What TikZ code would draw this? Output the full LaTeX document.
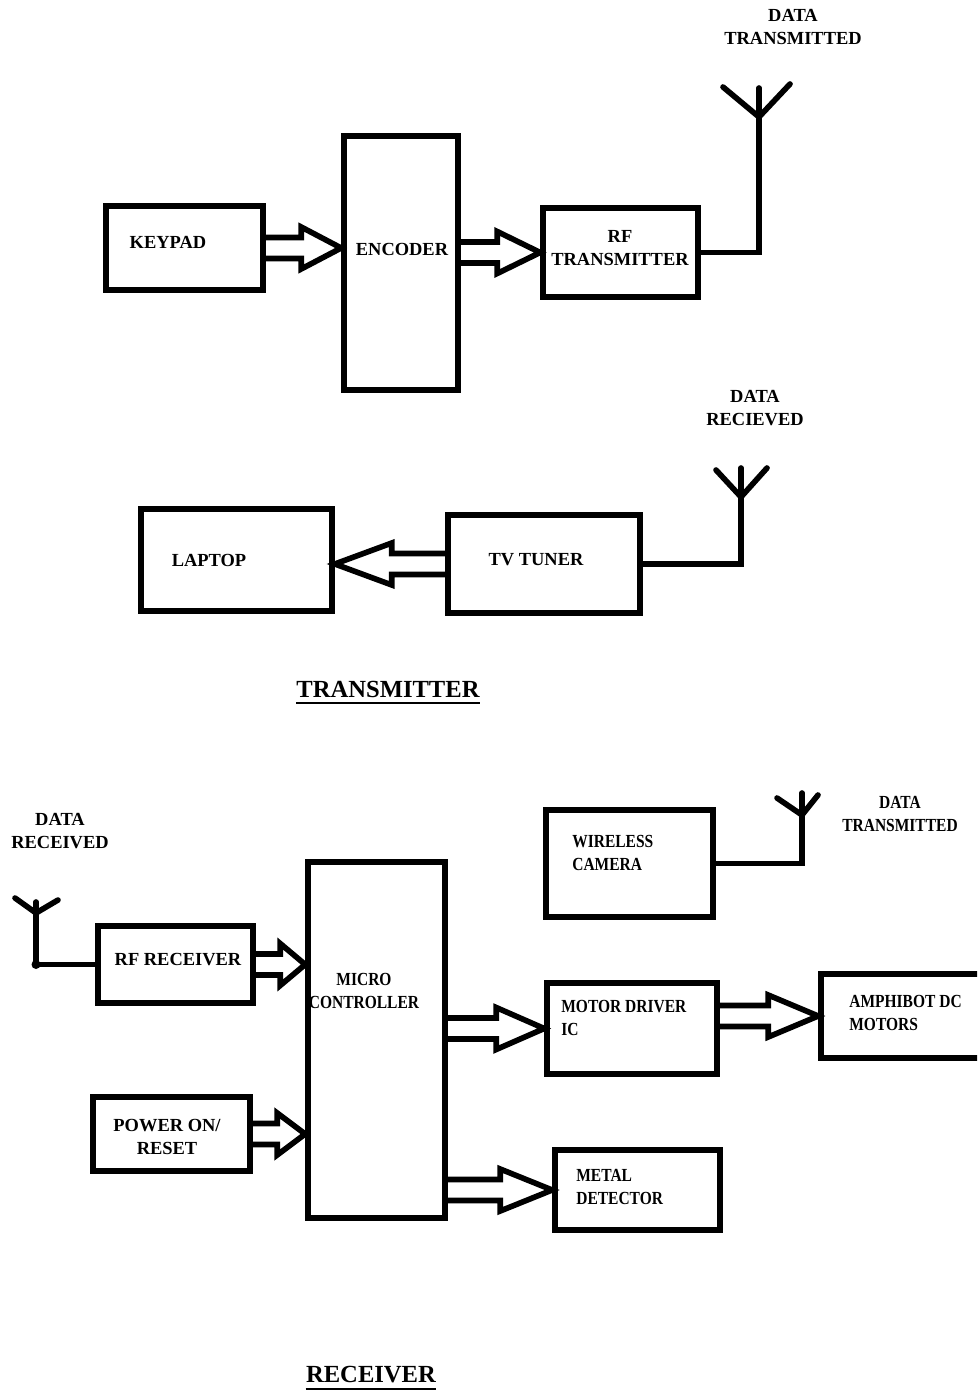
\documentclass[tikz,border=0pt]{standalone}
\usepackage{fontspec}
\setmainfont{Liberation Serif}
\newfontfamily\narrowserif[FakeStretch=0.84]{Liberation Serif}
\usetikzlibrary{fit, calc}

% hollow block arrow: from, tip, head length
\newcommand{\fatarrow}[3]{%
  \draw[fat] let \p1=#1, \p2=#2, \n1={sign(\x2-\x1)} in
    (\x1,{\y2+0.21cm}) -- ({\x2-(\n1)*#3},{\y2+0.21cm}) -- ({\x2-(\n1)*#3},{\y2+0.42cm})
    -- (\x2,\y2) -- ({\x2-(\n1)*#3},{\y2-0.42cm}) -- ({\x2-(\n1)*#3},{\y2-0.21cm})
    -- (\x1,{\y2-0.21cm});}

\begin{document}
\begin{tikzpicture}[x=0.02cm, y=-0.02cm,
  blk/.style={draw, rectangle, line width=3.2pt, inner sep=0pt},
  txt/.style={font=\fontsize{10.5}{13}\selectfont\bfseries, inner sep=0pt, align=center},
  ntxt/.style={font=\narrowserif\fontsize{10.5}{13}\selectfont\bfseries, inner sep=0pt, align=left, anchor=west},
  wire/.style={line width=3.2pt, line cap=round},
  fat/.style={line width=3.2pt, line join=miter},
  head/.style={font=\fontsize{14}{17}\selectfont\bfseries, inner sep=0pt}]

  \useasboundingbox (0,0) rectangle (977,1391);
  \clip (0,0) rectangle (977,1391);

  % Transmitter blocks
  \node[blk, fit={(106,206) (263,290)}] (KEY) {};
  \node[blk, fit={(344,136) (458,390)}] (ENC) {};
  \node[blk, fit={(543,208) (698,297)}] (RFT) {};
  \node[blk, fit={(141,509) (332,611)}] (LAP) {};
  \node[blk, fit={(448,515) (640,613)}] (TVT) {};

  \node[txt] (KEYt) at (168,242) {KEYPAD};
  \node[txt] (ENCt) at (402,249) {ENCODER};
  \node[txt] (RFTt) at (620,248) {RF\\TRANSMITTER};
  \node[txt] (LAPt) at (209,560) {LAPTOP};
  \node[txt] (TVTt) at (536,560) {TV TUNER};
  \node[txt] (txdata) at (793,27) {DATA\\TRANSMITTED};
  \node[txt] (tvdata) at (755,408) {DATA\\RECIEVED};
  \node[head] (TXh) at (388,689) {TRANSMITTER};
  \draw[line width=1.1pt] ([yshift=-3pt]TXh.south west) -- ([yshift=-3pt]TXh.south east);

  % Receiver blocks
  \node[blk, fit={(98,926) (253,1003)}] (RFR) {};
  \node[blk, fit={(308,862) (445,1218)}] (MCU) {};
  \node[blk, fit={(93,1097) (250,1171)}] (PWR) {};
  \node[blk, fit={(546,810) (713,917)}] (CAM) {};
  \node[blk, fit={(547,983) (717,1074)}] (MDR) {};
  \node[blk, fit={(821,974) (1000,1058)}] (MOT) {};
  \node[blk, fit={(555,1150) (720,1230)}] (MET) {};

  \node[txt] (RFRt) at (178,960) {RF RECEIVER};
  \node[ntxt, align=center, anchor=center] (MCUt) at (364,991) {MICRO\\CONTROLLER};
  \node[txt] (PWRt) at (167,1137) {POWER ON/\\RESET};
  \node[ntxt] (CAMt) at (572,853) {WIRELESS\\CAMERA};
  \node[ntxt] (MDRt) at (561,1018) {MOTOR DRIVER\\IC};
  \node[ntxt] (MOTt) at (849,1013) {AMPHIBOT DC\\MOTORS};
  \node[ntxt] (METt) at (576,1187) {METAL\\DETECTOR};
  \node[txt] (rxdata) at (60,831) {DATA\\RECEIVED};
  \node[ntxt, align=center, anchor=center] (camdata) at (900,814) {DATA\\TRANSMITTED};
  \node[head] (RXh) at (371,1375) {RECEIVER};
  \draw[line width=1.1pt] ([yshift=-3pt]RXh.south west) -- ([yshift=-3pt]RXh.south east);

  % Block arrows
  \fatarrow{(KEY.east)}{(ENC.west |- KEY.east)}{0.8cm}
  \fatarrow{(ENC.east |- RFT.west)}{(RFT.west)}{0.86cm}
  \fatarrow{(TVT.west)}{(LAP.east |- TVT.west)}{1.14cm}
  \fatarrow{(RFR.east)}{(MCU.west |- RFR.east)}{0.5cm}
  \fatarrow{(PWR.east)}{(MCU.west |- PWR.east)}{0.56cm}
  \fatarrow{(MCU.east |- MDR.west)}{(MDR.west)}{0.96cm}
  \fatarrow{(MDR.east |- MOT.west)}{(MOT.west)}{1.0cm}
  \fatarrow{(MCU.east |- MET.west)}{(MET.west)}{1.04cm}

  % Antennas
  \coordinate (ANT1) at (759,117);
  \draw[wire] (RFT.east) -| (ANT1) -- (759,88);
  \draw[wire] (723,87) -- (ANT1) -- (790,84);

  \coordinate (ANT2) at (741,497);
  \draw[wire] (TVT.east) -| (ANT2) -- (741,468);
  \draw[wire] (716,470) -- (ANT2) -- (767,468);

  \coordinate (ANT3) at (36,913);
  \draw[wire] (RFR.west) -| (ANT3) -- (36,902);
  \draw[wire] (15,898) -- (ANT3) -- (58,900);
  \fill (ANT3 |- RFR.west) circle (0.09cm);

  \coordinate (ANT4) at (802,815);
  \draw[wire] (CAM.east) -| (ANT4) -- (802,793);
  \draw[wire] (777,798) -- (ANT4) -- (818,795);

\end{tikzpicture}
\end{document}
